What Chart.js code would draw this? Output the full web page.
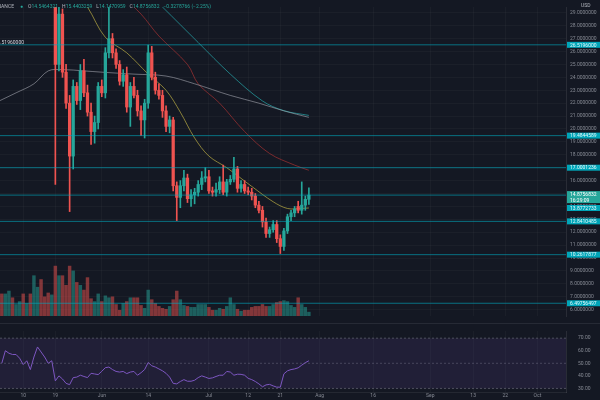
<!DOCTYPE html>
<html>
<head>
<meta charset="utf-8">
<script src="https://cdn.jsdelivr.net/npm/chart.js@4.4.0/dist/chart.umd.min.js"></script>
<style>
  html, body { margin: 0; padding: 0; background: #141823; }
  #wrap { position: relative; width: 600px; height: 400px; overflow: hidden; background: #141823; }
  #mainBox { position: absolute; left: 0; top: 0; width: 600px; height: 323px; }
  #rsiBox { position: absolute; left: 0; top: 324px; width: 600px; height: 76px; }
  #sep { position: absolute; left: 0; top: 323px; width: 600px; height: 1px; background: #262a35; }
  #legend { position: absolute; left: -7px; top: 3px; font: 5px Roboto, sans-serif; color: #b2b5be; white-space: nowrap; }
  #legend .v { color: #26a69a; margin-right: 4px; }
  #legend .dot { color: #26a69a; margin: 0 5px 0 6px; }
</style>
</head>
<body>
<div id="wrap">
  <div id="mainBox"><canvas id="main"></canvas></div>
  <div id="sep"></div>
  <div id="rsiBox"><canvas id="rsi"></canvas></div>
  <div id="legend">BINANCE<span class="dot">●</span>O<span class="v">14.5464321</span>H<span class="v">15.4403259</span>L<span class="v">14.1470959</span>C<span class="v">14.8756832</span><span class="v">−0.3278766 (−2.25%)</span></div>
</div>
<script>
// daily candles, index 0 = first bar on screen
var opens  = [36.0, 35.0, 36.5, 38.0, 37.0, 37.8, 39.0, 37.5, 38.2, 36.0, 39.5, 41.0, 38.0, 36.5, 34.0,
              35.0, 25.0, 28.9, 24.4, 22.0, 17.9, 23.3, 22.2, 24.5, 22.8, 21.3, 19.8, 20.5, 23.3, 22.8,
              25.9, 27.0, 25.9, 25.0, 23.7, 24.2, 21.7, 23.3, 22.6, 21.4, 20.7, 22.0, 25.9, 24.0, 23.0,
              22.6, 21.4, 20.2, 20.7, 15.6, 14.7, 15.6, 16.2, 14.6, 14.9, 15.1, 15.7, 16.2, 16.3, 15.2,
              15.1, 15.3, 15.9, 15.1, 15.9, 16.1, 16.9, 15.4, 15.7, 15.2, 15.1, 14.8, 14.1, 13.7, 12.8,
              11.9, 12.2, 12.6, 11.5, 10.9, 12.1, 13.2, 13.5, 14.0, 13.7, 14.1, 14.55];
var highs  = [37.5, 37.0, 39.0, 38.8, 38.5, 40.0, 39.8, 38.8, 38.9, 40.0, 42.0, 41.5, 38.6, 37.0, 36.0,
              35.5, 29.6, 29.3, 25.0, 22.6, 23.8, 23.6, 25.0, 25.4, 23.4, 22.0, 21.0, 23.6, 23.8, 26.3,
              29.6, 27.4, 26.2, 25.3, 24.6, 24.8, 23.6, 24.0, 23.0, 21.8, 22.3, 26.5, 26.4, 24.4, 23.5,
              23.0, 21.8, 21.0, 20.9, 15.9, 16.0, 16.8, 16.5, 15.3, 15.4, 16.0, 16.7, 17.0, 16.8, 15.5,
              15.8, 16.3, 17.2, 16.1, 16.4, 17.8, 17.1, 16.0, 16.0, 15.5, 15.4, 15.0, 14.4, 14.0, 13.1,
              12.4, 12.9, 12.9, 11.8, 12.3, 13.4, 13.7, 14.0, 14.4, 15.9, 14.8, 15.44];
var lows   = [34.5, 34.0, 35.8, 36.0, 36.2, 37.0, 36.5, 36.8, 35.0, 35.5, 38.8, 37.0, 35.8, 32.0, 31.0,
              15.7, 24.5, 24.0, 21.6, 13.6, 16.9, 21.9, 21.5, 22.5, 21.0, 18.8, 18.9, 20.0, 22.5, 22.4,
              25.5, 25.5, 24.7, 23.4, 23.3, 21.3, 20.2, 22.4, 21.0, 19.5, 19.3, 21.6, 23.8, 22.7, 22.3,
              20.9, 19.8, 19.7, 15.2, 12.9, 13.9, 15.2, 14.3, 14.0, 14.2, 14.8, 15.3, 15.9, 15.0, 14.8,
              14.8, 15.0, 14.9, 14.8, 15.7, 15.9, 15.1, 15.1, 15.0, 14.9, 14.5, 13.9, 13.5, 12.4, 11.6,
              11.6, 12.0, 11.2, 10.35, 10.6, 11.9, 12.9, 13.2, 13.5, 13.4, 13.7, 14.15];
var closes = [35.0, 36.5, 38.0, 37.0, 37.8, 39.0, 37.5, 38.2, 36.0, 39.5, 41.0, 38.0, 36.5, 34.0, 35.0,
              25.0, 28.9, 24.4, 22.0, 17.9, 23.3, 22.2, 24.5, 22.8, 21.3, 19.8, 20.5, 23.3, 22.8, 25.9,
              27.0, 25.9, 25.0, 23.7, 24.2, 21.7, 23.3, 22.6, 21.4, 20.7, 22.0, 25.9, 24.0, 23.0, 22.6,
              21.4, 20.2, 20.7, 15.6, 14.7, 15.6, 16.2, 14.6, 14.9, 15.1, 15.7, 16.2, 16.3, 15.2, 15.1,
              15.3, 15.9, 15.1, 15.9, 16.1, 16.9, 15.4, 15.7, 15.2, 15.1, 14.8, 14.1, 13.7, 12.8, 11.9,
              12.2, 12.6, 11.5, 10.9, 12.1, 13.2, 13.5, 13.8, 13.7, 14.1, 14.55, 14.88];
// volume, millions
var volumes = [2.3, 2.3, 2.6, 1.9, 1.2, 1.5, 2.3, 1.3, 2.3, 4.2, 3.0, 3.8, 2.0, 2.4, 2.2,
               5.2, 4.2, 4.2, 3.2, 5.2, 4.7, 3.5, 3.2, 2.7, 4.0, 1.8, 1.5, 2.3, 1.5, 2.1,
               1.9, 2.0, 1.2, 0.6, 1.3, 1.5, 1.9, 1.9, 1.9, 1.1, 0.8, 2.7, 1.7, 1.3, 1.0,
               0.8, 0.7, 1.0, 1.7, 2.6, 1.7, 1.1, 1.0, 0.9, 0.9, 1.2, 1.2, 1.2, 0.9, 0.6,
               0.6, 0.8, 0.7, 1.0, 1.9, 1.2, 0.7, 0.5, 0.6, 0.6, 0.9, 1.0, 1.0, 1.2, 1.0,
               1.0, 1.2, 1.4, 1.5, 1.6, 1.5, 1.1, 0.9, 1.9, 1.2, 0.9, 0.4];
var rsiValues = [50, 60, 58, 57, 57, 54, 49, 52, 45, 55, 63, 59, 55, 50, 52,
                 36, 40, 37.5, 34, 33, 38.6, 39, 40.5, 39.5, 38.6, 42, 41.5, 41, 43.6, 46.5,
                 47, 45, 43.5, 43, 43.5, 41.8, 43, 43.5, 40.5, 42.5, 45, 50.6, 48, 47, 45.5,
                 44, 42, 39, 34, 33.6, 35.5, 37, 35.7, 35.7, 36.5, 38.6, 40, 39, 37.9, 38.4,
                 39.5, 40.5, 40.5, 43.5, 43, 40.5, 41.3, 41.2, 40.5, 38, 37, 35.5, 33.6, 31.3, 32.8,
                 33.2, 32, 31, 31, 41.6, 44, 45, 45.5, 46.4, 48.5, 50.5, 52];

// moving averages (bar index, price)
var maGreyIdx = [-0.5, 4, 9, 13, 17, 23, 28, 37, 46, 54, 64, 72, 79, 86];
var maGreyVal = [22.2, 22.8, 23.5, 24.5, 24.6, 24.5, 24.4, 24.25, 24.1, 23.5, 22.6, 22.0, 21.4, 20.9];
var maTealIdx = [40, 45, 55, 64, 73, 79, 86];
var maTealVal = [30.8, 29.45, 26.7, 24.25, 22.17, 21.42, 21.05];
var maRedIdx = [34, 39, 44, 52, 55, 61, 68, 75, 82, 86];
var maRedVal = [30.2, 28.9, 27.2, 25.0, 23.5, 22.0, 19.8, 18.1, 17.2, 16.8];
var maYellowIdx = [22, 24, 29, 35, 41, 46, 50, 54, 58, 63, 70, 76, 80, 84, 86];
var maYellowVal = [30.1, 29.45, 27.1, 25.9, 24.25, 23.0, 21.3, 19.3, 17.9, 17.0, 15.55, 14.36, 13.84, 13.84, 13.88];

// horizontal levels and their axis tags
var levelValues = [26.5196, 19.4844589, 17.0001236, 14.8756832, 12.8410485, 10.2617877, 6.49756497];
var levelLabels = ['26.5196000', '19.4844589', '17.0001236', '', '12.8410485', '10.2617877', '6.49756497'];
var lastPrice = 14.8756832;
var lastLabel = '14.8756832';
var countdown = '16:29:09';
var maTagValue = 13.8772733;
var maTagLabel = '13.8772733';

var timeIdx = [6, 15, 28, 41, 58, 69, 78, 89, 104, 120, 132, 141, 150];
var timeLabels = ['10', '19', 'Jun', '14', 'Jul', '12', '21', 'Aug', '16', 'Sep', '13', '22', 'Oct'];

var xMin = -0.5, xMax = 158;
var upColor = '#26a69a', downColor = '#ef5350';
var gridColor = 'rgba(255,255,255,0.03)';
var tickColor = '#868a94';
var tagFont = '5px Roboto, sans-serif';

var idx = opens.map(function(_, i) { return i });
var dirColor = idx.map(function(i) { return closes[i] >= opens[i] ? upColor : downColor });
var volColor = idx.map(function(i) { return closes[i] >= opens[i] ? 'rgba(38,166,154,0.5)' : 'rgba(239,83,80,0.5)' });

function pts(xs, ys) {
    return xs.map(function(x, i) { return { x: x, y: ys[i] } });
}
function maLine(xs, ys, color) {
    return {
        type: 'line', data: pts(xs, ys), borderColor: color, borderWidth: 1,
        pointRadius: 0, tension: 0.35, order: 5
    };
}

var levelSets = levelValues.map(function(v) {
    return {
        type: 'line', data: [{ x: xMin, y: v }, { x: xMax, y: v }],
        borderColor: 'rgba(0,172,193,0.6)', borderWidth: 1, pointRadius: 0, order: 1
    };
});

var tagPlugin = {
    id: 'tags',
    afterDraw: function(chart) {
        var ctx = chart.ctx;
        var y = chart.scales.y;
        ctx.save();
        ctx.font = tagFont;
        ctx.textBaseline = 'middle';
        levelValues.forEach(function(v, i) {
            if (!levelLabels[i]) return;
            var py = y.getPixelForValue(v);
            ctx.fillStyle = '#00a5b8';
            ctx.fillRect(567, py - 3, 33, 6);
            ctx.fillStyle = '#e8fbfd';
            ctx.fillText(levelLabels[i], 570, py + 0.5);
        });
        var pm = y.getPixelForValue(maTagValue);
        ctx.fillStyle = '#00a5b8';
        ctx.fillRect(567, pm - 3, 33, 6);
        ctx.fillStyle = '#e8fbfd';
        ctx.fillText(maTagLabel, 570, pm + 0.5);

        var pl = y.getPixelForValue(lastPrice);
        ctx.fillStyle = '#26a69a';
        ctx.fillRect(567, pl - 4, 33, 12);
        ctx.fillStyle = '#ffffff';
        ctx.fillText(lastLabel, 570, pl);
        ctx.fillText(countdown, 570, pl + 5.5);

        // currency badge at the top of the axis
        ctx.fillStyle = '#141823';
        ctx.fillRect(577, 1, 23, 9);
        ctx.fillStyle = '#b2b5be';
        ctx.fillText('USD', 581, 6);

        // label of the top level line, cut by the left edge
        var pt = y.getPixelForValue(levelValues[0]);
        ctx.fillStyle = '#d1d4dc';
        ctx.textAlign = 'right';
        ctx.fillText('26.51960000', 24, pt - 2.5);
        ctx.restore();
    }
};

new Chart(document.getElementById('main'), {
    type: 'bar',
    data: {
        datasets: levelSets.concat([
            {
                data: idx.map(function(i) { return { x: i, y: [opens[i], closes[i]] } }),
                backgroundColor: dirColor, barThickness: 2.6, minBarLength: 1,
                grouped: false, order: 3
            },
            {
                data: idx.map(function(i) { return { x: i, y: [lows[i], highs[i]] } }),
                backgroundColor: dirColor, barThickness: 1, grouped: false, order: 4
            },
            maLine(maGreyIdx, maGreyVal, 'rgba(178,181,190,0.55)'),
            maLine(maTealIdx, maTealVal, 'rgba(38,166,170,0.7)'),
            maLine(maRedIdx, maRedVal, 'rgba(176,52,52,0.65)'),
            maLine(maYellowIdx, maYellowVal, 'rgba(200,185,70,0.65)'),
            {
                data: idx.map(function(i) { return { x: i, y: volumes[i] } }),
                backgroundColor: volColor, barThickness: 2.8, grouped: false,
                yAxisID: 'yv', order: 10
            }
        ])
    },
    options: {
        responsive: true,
        maintainAspectRatio: false,
        animation: false,
        layout: { padding: 0, autoPadding: false },
        plugins: { legend: { display: false }, tooltip: { enabled: false } },
        scales: {
            x: {
                type: 'linear', min: xMin, max: xMax, offset: false,
                afterBuildTicks: function(s) { s.ticks = timeIdx.map(function(v) { return { value: v } }) },
                afterFit: function(s) { s.height = 0 },
                ticks: { display: false },
                grid: { color: gridColor, drawTicks: false, offset: false },
                border: { display: false }
            },
            y: {
                position: 'right', min: 5.51, max: 29.45,
                afterFit: function(s) { s.width = 34 },
                ticks: {
                    stepSize: 1, includeBounds: false, autoSkip: false, padding: 4,
                    color: tickColor, font: { size: 5, family: 'Roboto' },
                    callback: function(v) { return v.toFixed(7) }
                },
                grid: { color: gridColor, drawTicks: false },
                border: { color: 'rgba(255,255,255,0.09)' }
            },
            yv: { display: false, min: 0, max: 32.2 }
        }
    },
    plugins: [tagPlugin]
});

new Chart(document.getElementById('rsi'), {
    type: 'line',
    data: {
        datasets: [
            { data: [{ x: xMin, y: 70 }, { x: xMax, y: 70 }], borderColor: 'rgba(120,123,134,0.55)', borderWidth: 1, borderDash: [2, 2], pointRadius: 0 },
            { data: [{ x: xMin, y: 30 }, { x: xMax, y: 30 }], borderColor: 'rgba(120,123,134,0.55)', borderWidth: 1, borderDash: [2, 2], pointRadius: 0, fill: '-1', backgroundColor: 'rgba(126,87,194,0.13)' },
            { data: [{ x: xMin, y: 50 }, { x: xMax, y: 50 }], borderColor: 'rgba(120,123,134,0.45)', borderWidth: 1, borderDash: [2, 2], pointRadius: 0 },
            { data: idx.map(function(i) { return { x: i, y: rsiValues[i] } }), borderColor: '#7e57c2', borderWidth: 1, pointRadius: 0, tension: 0 }
        ]
    },
    options: {
        responsive: true,
        maintainAspectRatio: false,
        animation: false,
        layout: { padding: 0, autoPadding: false },
        plugins: { legend: { display: false }, tooltip: { enabled: false } },
        scales: {
            x: {
                type: 'linear', min: xMin, max: xMax,
                afterBuildTicks: function(s) { s.ticks = timeIdx.map(function(v) { return { value: v } }) },
                afterFit: function(s) { s.height = 8 },
                ticks: {
                    autoSkip: false, maxRotation: 0, padding: 1, color: tickColor,
                    font: { size: 5, family: 'Roboto' },
                    callback: function(v) { var k = timeIdx.indexOf(v); return k < 0 ? '' : timeLabels[k] }
                },
                grid: { color: gridColor, drawTicks: false },
                border: { color: 'rgba(255,255,255,0.07)' }
            },
            y: {
                position: 'right', min: 27.14, max: 75.7,
                afterFit: function(s) { s.width = 34 },
                ticks: {
                    stepSize: 10, includeBounds: false, autoSkip: false, padding: 4,
                    color: tickColor, font: { size: 5, family: 'Roboto' },
                    callback: function(v) { return v.toFixed(2) }
                },
                grid: { display: false },
                border: { color: 'rgba(255,255,255,0.09)' }
            }
        }
    }
});
</script>
</body>
</html>
